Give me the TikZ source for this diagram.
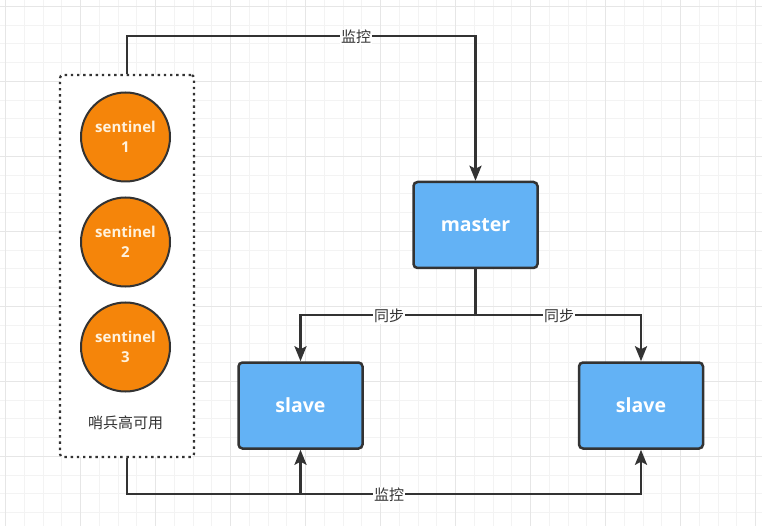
\documentclass[tikz,border=0pt]{standalone}
\usepackage{fontspec}
\setmainfont{Open Sans}
\newfontfamily\cjk{Noto Sans CJK SC}
\usetikzlibrary{arrows.meta,calc}
\definecolor{gridminor}{HTML}{F3F3F3}
\definecolor{gridmajor}{HTML}{E6E6E6}
\definecolor{lineC}{HTML}{333333}
\definecolor{orangeF}{HTML}{F5850A}
\definecolor{blueF}{HTML}{63B2F5}
\definecolor{creamT}{HTML}{FFF2DD}
\tikzset{
  x=1pt,y=-1pt,
  sentnode/.style={circle,draw=lineC,line width=2pt,fill=orangeF,minimum size=89pt,inner sep=0pt,
    text=creamT,font=\bfseries\fontsize{15}{20}\selectfont,align=center},
  srvnode/.style={rectangle,rounded corners=4pt,draw=lineC,line width=2.5pt,fill=blueF,
    minimum width=124pt,minimum height=86pt,text=white,font=\bfseries\fontsize{19.5}{22}\selectfont},
  groupbox/.style={rectangle,rounded corners=3pt,draw=lineC,line width=2.2pt,dash pattern=on 2.4pt off 3.8pt},
  conn/.style={draw=lineC,line width=2.5pt},
  arr/.style={conn,-{Stealth[length=15pt,width=12pt,inset=3pt]}},
  lbl/.style={fill=white,inner sep=1pt,text=lineC,font=\cjk\fontsize{15}{17}\selectfont},
  captxt/.style={text=lineC,font=\cjk\fontsize{15}{17}\selectfont}
}
\begin{document}
\begin{tikzpicture}
\useasboundingbox (0,0) rectangle (762,526);
\fill[white] (0,0) rectangle (762,526);
% grid
\foreach \i in {0,...,41} {
  \pgfmathsetmacro{\gx}{5.45+18.75*\i}
  \draw[gridminor,line width=0.8pt] (\gx,0) -- (\gx,526);
}
\foreach \i in {0,...,28} {
  \pgfmathsetmacro{\gy}{6.3+18.75*\i}
  \draw[gridminor,line width=0.8pt] (0,\gy) -- (762,\gy);
}
\foreach \i in {0,...,10} {
  \pgfmathsetmacro{\gx}{5.45+75*\i}
  \draw[gridmajor,line width=1pt] (\gx,0) -- (\gx,526);
}
\foreach \i in {0,...,7} {
  \pgfmathsetmacro{\gy}{6.3+75*\i}
  \draw[gridmajor,line width=1pt] (0,\gy) -- (762,\gy);
}
% group box
\fill[white,rounded corners=3pt] (60,75) rectangle (194,457);
\node[groupbox,minimum width=134pt,minimum height=382pt,inner sep=0pt] (grp) at (127,266) {};
\node[sentnode] (s1) at (125.5,137) {sentinel\\1};
\node[sentnode] (s2) at (125.5,242) {sentinel\\2};
\node[sentnode] (s3) at (125.5,347) {sentinel\\3};
\node[captxt] (cap) at (125.5,423) {哨兵高可用};
% servers
\node[srvnode] (master) at (475.5,225) {master};
\node[srvnode] (slaveL) at (300.5,405.5) {slave};
\node[srvnode] (slaveR) at (641,405.5) {slave};
% connectors
\coordinate (t1) at (127,36);
\draw[arr] (grp.north) -- (t1) -| (master.north);
\node[lbl] (lt) at (356,37) {监控};
\coordinate (m1) at (475.5,315);
\draw[arr] (master.south) -- (m1) -| (slaveL.north);
\draw[arr] (m1) -| (slaveR.north);
\node[lbl] (lm1) at (389,316) {同步};
\node[lbl] (lm2) at (559,316) {同步};
\coordinate (b1) at (127,494);
\draw[arr] (grp.south) -- (b1) -| (slaveR.south);
\draw[arr] (slaveL.south |- b1) -- (slaveL.south);
\node[lbl] (lb) at (389,495) {监控};
\end{tikzpicture}
\end{document}
